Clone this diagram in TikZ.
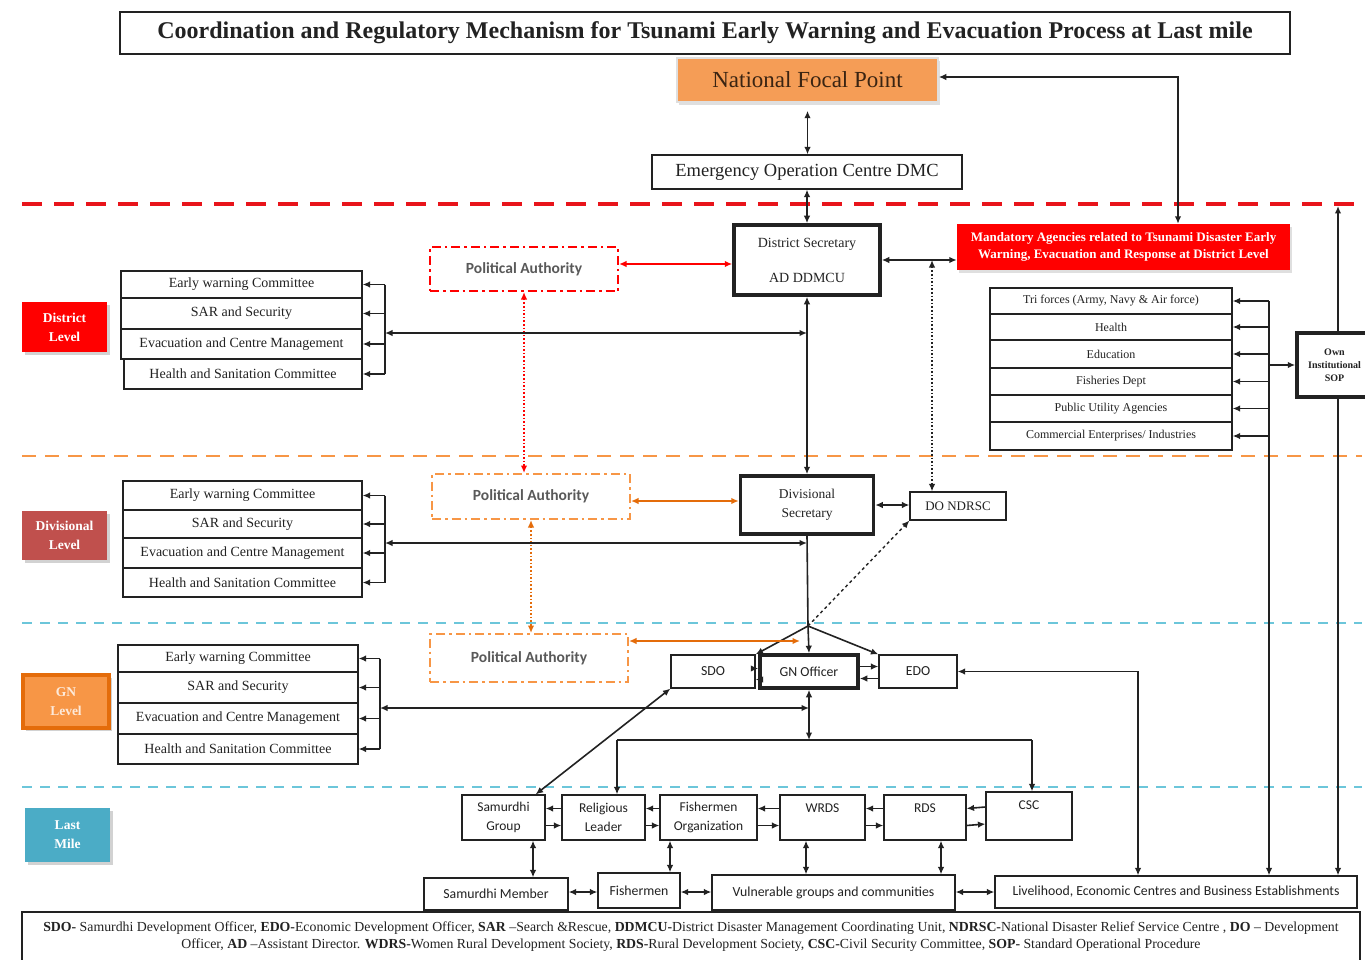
\documentclass[tikz,border=0pt]{standalone}
\usepackage{fontspec}
\setmainfont{Liberation Serif}
\newfontfamily\sansA{Carlito}
\usetikzlibrary{arrows.meta,shadows,calc}
\definecolor{redL}{HTML}{FF0000}
\definecolor{redD}{HTML}{E8141B}
\definecolor{divred}{HTML}{C0504D}
\definecolor{orgF}{HTML}{F79646}
\definecolor{orgD}{HTML}{E46C0A}
\definecolor{cyanL}{HTML}{4BACC6}
\definecolor{cyanLine}{HTML}{6CC6DA}
\definecolor{nfpF}{HTML}{F59D56}
\definecolor{ink}{HTML}{222222}
\definecolor{nfpT}{HTML}{3A2412}
\newcommand\fsz[2]{\fontsize{#1}{#2}\selectfont}
\tikzset{
  wh/.style 2 args={minimum width=#1pt, minimum height=#2pt},
  box/.style={draw=ink, line width=1.2pt, fill=white, inner sep=1pt, align=center, text=ink},
  thickbox/.style={box, line width=3.5pt},
  pa/.style={draw, line width=2pt, dash pattern=on 9pt off 4pt on 2.5pt off 4pt, fill=white, font=\sansA\fsz{15.5}{18}\bfseries, text=ink!75},
  lab/.style={text=white, font=\fsz{13.5}{19}\bfseries, align=center, inner sep=1pt,
    drop shadow={opacity=0.35, shadow xshift=3pt, shadow yshift=-3pt}},
  comm/.style={box, font=\fsz{14}{16}},
  agency/.style={box, font=\fsz{12}{14}},
  sbox/.style={box, font=\sansA\fsz{13.8}{16}},
  tip/.tip={Latex[length=7.5pt,width=6.5pt]},
  arr/.style={ink, line width=1.6pt, -tip},
  dbl/.style={ink, line width=1.6pt, tip-tip},
  bus/.style={ink, line width=1.6pt}
}
\begin{document}
\begin{tikzpicture}[x=1pt,y=-1pt]
\fill[white] (0,0) rectangle (1365,960);
\useasboundingbox (0,0) rectangle (1365,960);

% level separators
\draw[redD, line width=3.5pt, dash pattern=on 20pt off 12pt] (22,204) -- (1355,204);
\draw[orgF, line width=2.5pt, dash pattern=on 14pt off 9pt] (22,456) -- (1362,456);
\draw[cyanLine, line width=2pt, dash pattern=on 10pt off 8pt] (22,623) -- (1362,623);
\draw[cyanLine, line width=2pt, dash pattern=on 10pt off 8pt] (22,787) -- (1362,787);

% top
\node[box, wh={1170}{42}, font=\fsz{24}{27}\bfseries] (title) at (705,33) {Coordination and Regulatory Mechanism for Tsunami Early Warning and Evacuation Process at Last mile};
\node[fill=nfpF, draw=gray!25, line width=1.5pt, wh={261}{44}, font=\fsz{23}{26}, text=nfpT,
  drop shadow={opacity=0.25, shadow xshift=2pt, shadow yshift=-3pt}] (nfp) at (807.5,80) {National Focal Point};
\node[box, wh={310}{34}, font=\fsz{18.5}{21}] (eoc) at (807,172) {Emergency Operation Centre DMC};

% district level
\node[thickbox, wh={146}{70}, font=\fsz{14}{35}] (ds) at (807,260) {District Secretary\\AD DDMCU};
\node[pa, draw=redL, wh={188}{44}] (pa1) at (524,269) {Political Authority};
\node[fill=redL, text=white, font=\fsz{13}{17}\bfseries, wh={333}{46}, align=center, inner sep=1pt,
  drop shadow={opacity=0.25, shadow xshift=2pt, shadow yshift=-3pt}] (mand) at (1123.5,247) {Mandatory Agencies related to Tsunami Disaster Early\\Warning, Evacuation and Response at District Level};

\node[comm, wh={241}{27}] (dc1) at (241.5,284.5) {Early warning Committee};
\node[comm, wh={241}{31}] (dc2) at (241.5,313.5) {SAR and Security};
\node[comm, wh={241}{30}] (dc3) at (241.5,344) {Evacuation and Centre Management};
\node[comm, wh={238}{30}] (dc4) at (243,374) {Health and Sanitation Committee};
\node[lab, fill=redL, wh={85}{50}] (dlab) at (64.5,327) {District\\Level};

\node[agency, wh={242}{26}] (ag1) at (1111,301) {Tri forces (Army, Navy \& Air force)};
\node[agency, wh={242}{26}] (ag2) at (1111,327) {Health};
\node[agency, wh={242}{28}] (ag3) at (1111,354) {Education};
\node[agency, wh={242}{27}] (ag4) at (1111,381.5) {Fisheries Dept};
\node[agency, wh={242}{27}] (ag5) at (1111,408.5) {Public Utility Agencies};
\node[agency, wh={242}{28}] (ag6) at (1111,436) {Commercial Enterprises/ Industries};
\node[thickbox, wh={75}{64}, font=\fsz{10}{13}\bfseries] (sop) at (1334.5,365) {Own\\Institutional\\SOP};

% divisional level
\node[thickbox, wh={133}{58}, font=\fsz{13.5}{19}] (dvs) at (807,505) {Divisional\\Secretary};
\node[box, wh={96}{28}, font=\fsz{13}{15}] (do) at (958,506) {DO NDRSC};
\node[pa, draw=orgF, wh={198}{45}] (pa2) at (531,496.5) {Political Authority};
\node[comm, wh={239}{29}] (vc1) at (242.5,495.5) {Early warning Committee};
\node[comm, wh={239}{28}] (vc2) at (242.5,524) {SAR and Security};
\node[comm, wh={239}{30}] (vc3) at (242.5,553) {Evacuation and Centre Management};
\node[comm, wh={239}{29}] (vc4) at (242.5,582.5) {Health and Sanitation Committee};
\node[lab, fill=divred, wh={85}{49}] (vlab) at (64.5,535.5) {Divisional\\Level};

% GN level
\node[pa, draw=orgF, wh={198}{48}] (pa3) at (529,658) {Political Authority};
\node[sbox, wh={84}{33}] (sdo) at (713,671.5) {SDO};
\node[sbox, line width=3.5pt, wh={98}{33}] (gn) at (809,671.5) {GN Officer};
\node[sbox, wh={78}{33}] (edo) at (918,671.5) {EDO};
\node[comm, wh={240}{27}] (gc1) at (238,658.5) {Early warning Committee};
\node[comm, wh={240}{31}] (gc2) at (238,687.5) {SAR and Security};
\node[comm, wh={240}{31}] (gc3) at (238,718.5) {Evacuation and Centre Management};
\node[comm, wh={240}{30}] (gc4) at (238,749) {Health and Sanitation Committee};
\node[lab, fill=orgF, draw=orgD, line width=4pt, text=white!80!orgF, wh={86}{53}] (glab) at (66,701.5) {GN\\Level};

% last mile
\node[lab, fill=cyanL, wh={85}{54}] (llab) at (67.5,835) {Last\\Mile};
\node[sbox, wh={83}{45}, font=\sansA\fsz{13.5}{19}] (sg) at (503.5,817.5) {Samurdhi\\Group};
\node[sbox, wh={83}{45}, font=\sansA\fsz{13.5}{19}] (rel) at (603.5,817.5) {Religious\\Leader};
\node[sbox, wh={97}{45}, font=\sansA\fsz{13.5}{19}] (fo) at (708.5,817.5) {Fishermen\\Organization};
\node[sbox, wh={85}{45}, font=\sansA\fsz{13.5}{19}] (wrds) at (822.5,817.5) {WRDS\\\phantom{W}};
\node[sbox, wh={82}{45}, font=\sansA\fsz{13.5}{19}] (rds) at (925,817.5) {RDS\\\phantom{W}};
\node[sbox, wh={86}{48}, font=\sansA\fsz{13.5}{22}] (csc) at (1029,816) {CSC\\\phantom{W}};
\node[sbox, wh={144}{32}] (sm) at (496,894) {Samurdhi Member};
\node[sbox, wh={82}{35}] (fish) at (639,890.5) {Fishermen};
\node[sbox, wh={243}{35}] (vul) at (833.5,892.5) {Vulnerable groups and communities};
\node[sbox, wh={362}{32}] (liv) at (1176,892) {Livelihood, Economic Centres and Business Establishments};

% legend
\node[box, wh={1338}{50}, font=\fsz{13.8}{17}] (leg) at (691,937) {\textbf{SDO-} Samurdhi Development Officer, \textbf{EDO-}Economic Development Officer, \textbf{SAR} --Search \&Rescue, \textbf{DDMCU-}District Disaster Management Coordinating Unit, \textbf{NDRSC-}National Disaster Relief Service Centre , \textbf{DO} -- Development\\Officer, \textbf{AD} --Assistant Director. \textbf{WDRS-}Women Rural Development Society, \textbf{RDS-}Rural Development Society, \textbf{CSC-}Civil Security Committee, \textbf{SOP-} Standard Operational Procedure};

% ---------- connectors ----------
\coordinate (dbus) at (385,333);
\coordinate (vbus) at (385,543);
\coordinate (gbus) at (380,708);
\coordinate (abus) at (1269,301);
\coordinate (dj) at (932,260);
\coordinate (gj) at (808,626);
\coordinate (oj) at (800,641);
\coordinate (lb1) at (617,740);
\coordinate (lb2) at (1032,740);
\coordinate (stop) at (1338,206);
\coordinate (nfpc) at (1178,77);

\draw[dbl, shorten <=8pt] (nfp.south) -- (nfp.south |- eoc.north);
\draw[dbl] (eoc.south) -- (eoc.south |- ds.north);
\draw[dbl, redL] (pa1.east |- 0,264) -- (ds.west |- 0,264);
\draw[dbl, redL, dotted, line width=1.8pt] (pa1.south) -- (pa1.south |- pa2.north);
\draw[dbl] (ds.east) -- (ds.east -| mand.west);
\draw[dbl, dotted, line width=1.8pt] (dj) -- (dj |- do.north);
\draw[dbl] (nfpc |- mand.north) -- (nfpc) -- (nfp.east |- nfpc);

% district committees
\draw[bus] (dbus |- dc1.east) -- (dbus |- dc4.east);
\foreach \n in {dc1,dc2,dc3,dc4} \draw[arr] (dbus |- \n.east) -- (\n.east);
\draw[dbl] (dbus) -- (dbus -| ds.south);
\draw[dbl] (ds.south) -- (ds.south |- dvs.north);

% agencies
\draw[arr] (abus) -- (abus |- liv.north);
\foreach \n in {ag1,ag2,ag3,ag4,ag5,ag6} \draw[arr] (abus |- \n.east) -- (\n.east);
\draw[arr] (abus |- sop.west) -- (sop.west);
\draw[arr] ([xshift=3.5pt]sop.north) -- (stop);
\draw[arr] ([xshift=3.5pt]sop.south) -- ([xshift=3.5pt]sop.south |- liv.north);

% divisional
\draw[dbl] (dvs.east) -- (dvs.east -| do.west);
\draw[dbl, orgD] (pa2.east |- 0,501) -- (dvs.west |- 0,501);
\draw[dbl, orgD, dotted, line width=1.8pt] (pa2.south) -- (pa2.south |- pa3.north);
\draw[bus] (vbus |- vc1.east) -- (vbus |- vc4.east);
\foreach \n in {vc1,vc2,vc3,vc4} \draw[arr] (vbus |- \n.east) -- (\n.east);
\draw[dbl] (vbus) -- (vbus -| dvs.south);

% GN
\draw[bus] (dvs.south) -- (gj);
\draw[arr] (gj) -- (gn.north);
\draw[arr] (gj) -- (sdo.north east);
\draw[arr] (gj) -- (edo.north west);
\draw[arr, dashed, line width=1.4pt] (gj) -- (do.south west);
\draw[dbl, orgD] (oj) -- (oj -| pa3.east);
\draw[arr, shorten <=-1pt] ([yshift=3pt]sdo.east) -- ([yshift=3pt]gn.west);
\draw[arr, shorten <=-1pt] ([yshift=-8pt]gn.west) -- ([yshift=-8pt]sdo.east);
\draw[arr] ([yshift=5pt]gn.east) -- ([yshift=5pt]edo.west);
\draw[arr] ([yshift=-7pt]edo.west) -- ([yshift=-7pt]gn.east);
\draw[dbl] (edo.east) -| ([xshift=-38pt]liv.north);
\draw[bus] (gbus |- gc1.east) -- (gbus |- gc4.east);
\foreach \n in {gc1,gc2,gc3,gc4} \draw[arr] (gbus |- \n.east) -- (\n.east);
\draw[dbl] (gbus) -- (gbus -| gn.south);
\draw[dbl] (gn.south) -- (gn.south |- lb1);
\draw[bus] (lb1) -- (lb2);
\draw[arr] (lb1) -- (lb1 |- rel.north);
\draw[arr] (lb2) -- (lb2 |- csc.north);
\draw[dbl] ([xshift=-10pt]sg.north east) -- (sdo.south west);

% last mile horizontal pairs
\foreach \a/\b in {sg/rel, rel/fo, fo/wrds, wrds/rds, rds/csc} {
  \draw[arr] ([yshift=9pt]\b.west) -- ([yshift=9pt]\a.east);
  \draw[arr] ([yshift=-8pt]\a.east) -- ([yshift=-8pt]\b.west);
}
\draw[dbl] ([xshift=29.5pt]sg.south) -- ([xshift=29.5pt]sg.south |- sm.north);
\draw[dbl] ([xshift=-38.5pt]fo.south) -- ([xshift=-38.5pt]fo.south |- fish.north);
\draw[dbl] ([xshift=-16.5pt]wrds.south) -- ([xshift=-16.5pt]wrds.south |- vul.north);
\draw[dbl] ([xshift=16pt]rds.south) -- ([xshift=16pt]rds.south |- vul.north);
\draw[dbl] (sm.east |- 0,892) -- (fish.west |- 0,892);
\draw[dbl] (fish.east |- 0,892) -- (vul.west |- 0,892);
\draw[dbl] (vul.east |- 0,892) -- (liv.west |- 0,892);
\end{tikzpicture}
\end{document}
